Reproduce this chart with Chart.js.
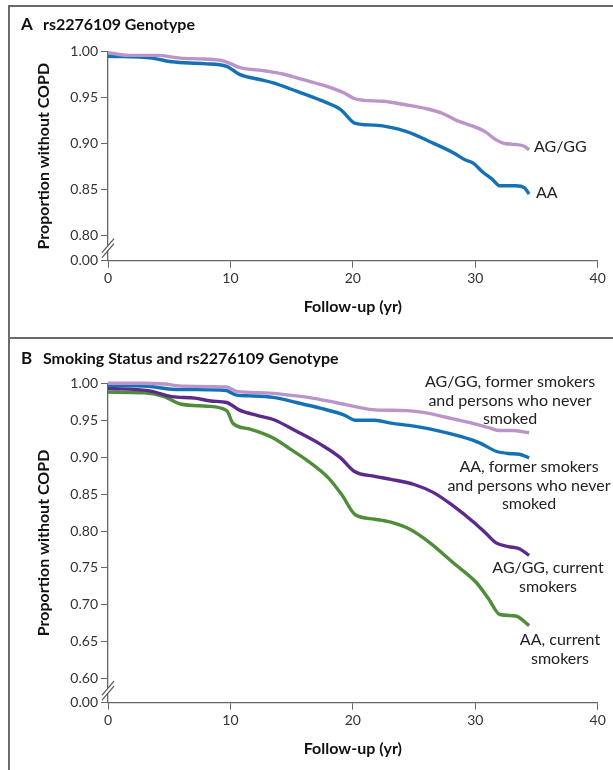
<!DOCTYPE html>
<html>
<head>
<meta charset="utf-8">
<script src="https://cdn.jsdelivr.net/npm/chart.js@4.4.0/dist/chart.umd.min.js"></script>
<style>
  body { margin: 0; background: #fff; }
  #wrap { position: relative; width: 613px; height: 770px; overflow: hidden; }
  .rule { position: absolute; background: #6b6b6b; }
  canvas { position: absolute; left: 0; }
</style>
</head>
<body>
<div id="wrap">
  <div class="rule" style="left:8px;top:5px;width:605px;height:2px"></div>
  <div class="rule" style="left:8px;top:5px;width:2px;height:765px"></div>
  <div class="rule" style="left:8px;top:337px;width:605px;height:2px"></div>
  <canvas id="chartA" width="613" height="338" style="top:0"></canvas>
  <canvas id="chartB" width="613" height="432" style="top:338px"></canvas>
</div>
<script>
// x ticks (years) shared by both panels
const xTicks = [0, 10, 20, 30, 40];

// Panel A: rs2276109 genotype
const yTicksA = [0.80, 0.85, 0.90, 0.95, 1.00];
const aggA_t = [0, 1.7, 4, 5.9, 7.8, 9.4, 10, 10.7, 12.9, 14.2, 16.1, 17.7, 19.3, 20.1, 20.9, 22.5, 24.4, 26, 27.3, 28.5, 29.8, 30.8, 31.7, 32.4, 33.3, 34, 34.4];
const aggA_v = [0.999, 0.996, 0.996, 0.993, 0.992, 0.990, 0.987, 0.983, 0.979, 0.976, 0.969, 0.963, 0.955, 0.949, 0.947, 0.946, 0.942, 0.938, 0.933, 0.925, 0.919, 0.913, 0.904, 0.900, 0.899, 0.897, 0.893];
const aaA_t = [0, 3.6, 5.2, 7.8, 9.7, 10.2, 10.8, 12.3, 13.5, 15.4, 17.4, 19, 20.2, 21.8, 24.4, 26.3, 28.2, 29.2, 29.8, 30.6, 31.4, 32, 33.3, 34, 34.4];
const aaA_v = [0.995, 0.993, 0.989, 0.987, 0.984, 0.980, 0.975, 0.970, 0.966, 0.957, 0.947, 0.937, 0.922, 0.920, 0.913, 0.902, 0.890, 0.882, 0.879, 0.869, 0.861, 0.854, 0.854, 0.852, 0.845];

// Panel B: smoking status and genotype
const yTicksB = [0.60, 0.65, 0.70, 0.75, 0.80, 0.85, 0.90, 0.95, 1.00];
const aggFormer_t = [0, 2.7, 4.6, 6.2, 9.7, 10.5, 12.9, 14.8, 16.7, 18.6, 20.6, 21.8, 24.4, 26, 27.6, 29.5, 31.1, 32, 33, 34.4];
const aggFormer_v = [1.000, 1.000, 0.999, 0.996, 0.995, 0.989, 0.987, 0.984, 0.980, 0.974, 0.967, 0.964, 0.963, 0.960, 0.954, 0.947, 0.940, 0.936, 0.936, 0.933];
const aaFormer_t = [0, 3.3, 5.2, 9.1, 9.7, 10.5, 11.6, 13.5, 15.4, 17.4, 19.3, 20.2, 21.8, 23.1, 25, 26.9, 28.8, 30.4, 31.7, 32.7, 33.6, 34.4];
const aaFormer_v = [0.997, 0.996, 0.992, 0.991, 0.990, 0.984, 0.983, 0.981, 0.974, 0.966, 0.957, 0.950, 0.950, 0.946, 0.942, 0.936, 0.928, 0.919, 0.908, 0.905, 0.904, 0.899];
const aggCurrent_t = [0, 3.3, 5.2, 7.1, 8.4, 9.7, 10.7, 12.3, 13.5, 15.4, 17.4, 19, 20.1, 21.8, 23.1, 25, 26.6, 28.2, 29.8, 30.8, 31.7, 32.7, 33.6, 34.4];
const aggCurrent_v = [0.993, 0.990, 0.982, 0.980, 0.976, 0.974, 0.964, 0.956, 0.951, 0.935, 0.917, 0.899, 0.881, 0.874, 0.870, 0.863, 0.852, 0.834, 0.813, 0.798, 0.784, 0.779, 0.776, 0.767];
const aaCurrent_t = [0, 3, 4.6, 5.9, 8.1, 9.7, 10.2, 11.6, 13.5, 14.8, 16.4, 18, 19.1, 20.2, 21.8, 23.1, 24.7, 26.3, 28.2, 30.1, 31.1, 32, 33.3, 34.4];
const aaCurrent_v = [0.988, 0.987, 0.982, 0.972, 0.969, 0.963, 0.946, 0.938, 0.926, 0.912, 0.894, 0.872, 0.849, 0.822, 0.816, 0.812, 0.802, 0.784, 0.757, 0.730, 0.708, 0.687, 0.685, 0.672];

const LAVENDER = '#bb94c9';
const BLUE = '#1571b6';
const PURPLE = '#5b2a8b';
const GREEN = '#4f8d3b';
const AXIS = '#666';
const TXT = '#222';
const FONT = 'Lato, "Open Sans", sans-serif';

function pts(t, v) { return t.map((x, i) => ({ x: x, y: v[i] })); }

function series(t, v, color) {
    return {
        data: pts(t, v),
        borderColor: color,
        borderWidth: 3.4,
        pointRadius: 0,
        cubicInterpolationMode: 'monotone',
        clip: false,
        fill: false
    };
}

// plugin: panel title, curve labels, broken y axis mark
const decor = {
    id: 'decor',
    afterDraw(chart) {
        const o = chart.options.plugins.decor;
        const ctx = chart.ctx;
        const xs = chart.scales.x, ys = chart.scales.y;
        ctx.save();

        // axis break
        const ax = xs.left;
        const cy = ys.getPixelForValue((ys.min + o.lowTick) / 2);
        ctx.fillStyle = '#fff';
        ctx.fillRect(ax - 2, cy - 2.5, 4, 5);
        ctx.strokeStyle = '#555';
        ctx.lineWidth = 1.2;
        [-2.5, 2.5].forEach(d => {
            ctx.beginPath();
            ctx.moveTo(ax - 6, cy + d + 7);
            ctx.lineTo(ax + 6, cy + d - 7);
            ctx.stroke();
        });

        // panel letter + title
        ctx.fillStyle = '#111';
        ctx.textBaseline = 'middle';
        ctx.textAlign = 'left';
        ctx.font = 'bold 17px ' + FONT;
        ctx.fillText(o.letter, 21, o.titleY);
        ctx.font = 'bold 16px ' + FONT;
        ctx.fillText(o.title, 43, o.titleY);

        // curve labels
        ctx.fillStyle = TXT;
        ctx.font = '16px ' + FONT;
        o.labels.forEach(l => {
            ctx.textAlign = l.align;
            l.lines.forEach((s, i) => ctx.fillText(s, l.x, l.y + i * 18.5));
        });
        ctx.restore();
    }
};

function makeChart(id, datasets, yMin, yTicks, g, deco) {
    return new Chart(document.getElementById(id), {
        type: 'line',
        data: { datasets: datasets },
        options: {
            responsive: false,
            animation: false,
            events: [],
            layout: { padding: { top: g.top, right: 15.3, bottom: 0, left: 0 } },
            plugins: { legend: { display: false }, tooltip: { enabled: false }, decor: deco },
            scales: {
                x: {
                    type: 'linear', min: 0, max: 40,
                    afterBuildTicks: s => { s.ticks = xTicks.map(v => ({ value: v })); },
                    afterFit: s => { s.height = g.xHeight; },
                    ticks: { font: { family: FONT, size: 14 }, color: '#333', padding: 2, maxRotation: 0 },
                    grid: { drawOnChartArea: false, tickLength: 7, color: AXIS },
                    border: { color: AXIS, width: 1.3 },
                    title: { display: true, text: 'Follow-up (yr)', color: '#111',
                             font: { family: FONT, size: 16, weight: 'bold' }, padding: { bottom: g.xTitlePad } }
                },
                y: {
                    type: 'linear', min: yMin, max: 1.0,
                    afterBuildTicks: s => { s.ticks = [yMin].concat(yTicks).map(v => ({ value: v })); },
                    afterFit: s => { s.width = 108; },
                    ticks: { callback: v => v === yMin ? '0.00' : v.toFixed(2),
                             font: { family: FONT, size: 14 }, color: '#333', padding: 3 },
                    grid: { drawOnChartArea: false, tickLength: 7, color: AXIS },
                    border: { color: AXIS, width: 1.3 },
                    title: { display: true, text: 'Proportion without COPD', color: '#111',
                             font: { family: FONT, size: 16, weight: 'bold' }, padding: { top: 34.4 } }
                }
            }
        },
        plugins: [decor]
    });
}

makeChart('chartA', [
    series(aggA_t, aggA_v, LAVENDER),
    series(aaA_t, aaA_v, BLUE)
], 0.7724, yTicksA, { top: 51.7, xHeight: 77.3, xTitlePad: 21.4 }, {
    letter: 'A', title: 'rs2276109 Genotype', titleY: 25, lowTick: 0.80,
    labels: [
        { lines: ['AG/GG'], x: 534, y: 147, align: 'left' },
        { lines: ['AA'], x: 536, y: 193, align: 'left' }
    ]
});

makeChart('chartB', [
    series(aggFormer_t, aggFormer_v, LAVENDER),
    series(aaFormer_t, aaFormer_v, BLUE),
    series(aggCurrent_t, aggCurrent_v, PURPLE),
    series(aaCurrent_t, aaCurrent_v, GREEN)
], 0.5676, yTicksB, { top: 45.3, xHeight: 67.3, xTitlePad: 11.4 }, {
    letter: 'B', title: 'Smoking Status and rs2276109 Genotype', titleY: 21, lowTick: 0.60,
    labels: [
        { lines: ['AG/GG, former smokers', 'and persons who never', 'smoked'], x: 510, y: 44, align: 'center' },
        { lines: ['AA, former smokers', 'and persons who never', 'smoked'], x: 529, y: 129, align: 'center' },
        { lines: ['AG/GG, current', 'smokers'], x: 548, y: 230, align: 'center' },
        { lines: ['AA, current', 'smokers'], x: 560, y: 302, align: 'center' }
    ]
});
</script>
</body>
</html>
